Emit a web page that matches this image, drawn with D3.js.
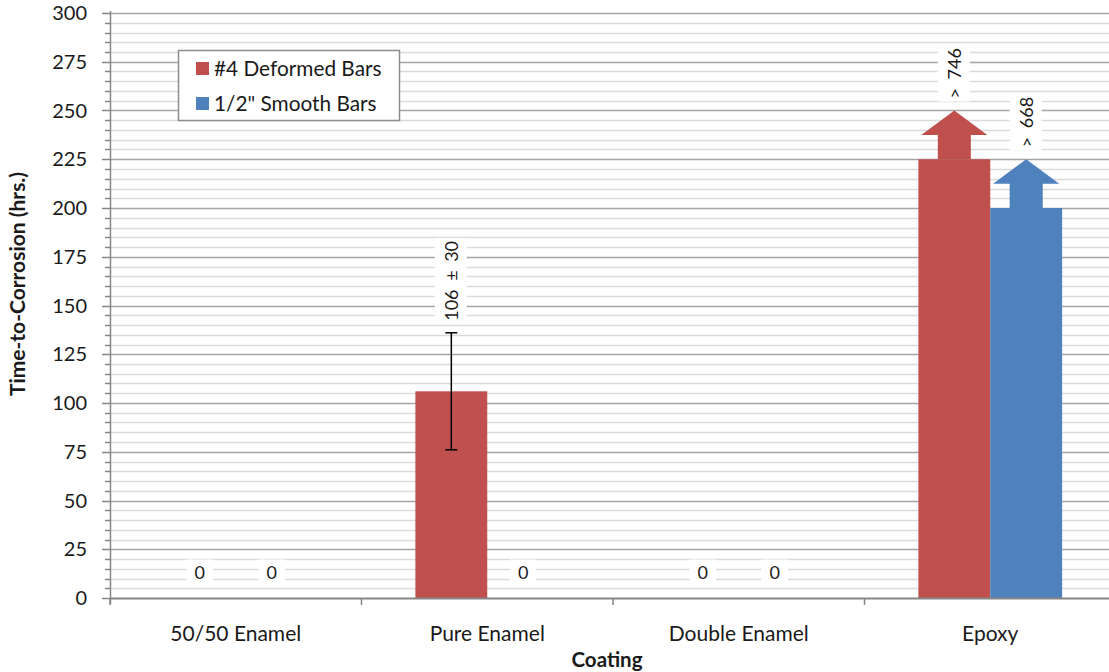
<!DOCTYPE html>
<html><head><meta charset="utf-8">
<script src="https://cdn.jsdelivr.net/npm/d3@7"></script>
<style>
html,body{margin:0;padding:0;background:#fff;}
svg{display:block;}
text{font-family:Lato,"Open Sans",sans-serif;fill:#1a1a1a;}
</style></head>
<body>
<svg id="chart" width="1109" height="672"></svg>
<script>
// ---- data ----
const categories = ["50/50 Enamel", "Pure Enamel", "Double Enamel", "Epoxy"];
const seriesNames = ["#4 Deformed Bars", "1/2\" Smooth Bars"];
const deformedValues = [0, 106, 0, 225];
const smoothValues = [0, 0, 0, 200];
const deformedArrowTop = [null, null, null, 250];
const smoothArrowTop = [null, null, null, 225];
const deformedError = [null, 30, null, null];
const smoothError = [null, null, null, null];
const deformedLabels = ["0", "106 ± 30", "0", "> 746"];
const smoothLabels = ["0", "0", "0", "> 668"];
const yTicks = [0, 25, 50, 75, 100, 125, 150, 175, 200, 225, 250, 275, 300];
const yMinorStep = 5;
const colors = ["#C0504D", "#4F81BD"];

(function () {
const svg = d3.select("#chart");
const pLeft = 110, pRight = 1116, pTop = 13, pBottom = 598;

const y = d3.scaleLinear().domain([0, 300]).range([pBottom, pTop]);
const x0 = d3.scaleBand().domain(categories).range([pLeft, pRight]).paddingInner(0).paddingOuter(0);
const x1 = d3.scaleBand().domain(seriesNames).range([0, x0.bandwidth()]).paddingInner(0).paddingOuter(0.75);

// gridlines
const minor = d3.range(0, 300 + 1e-9, yMinorStep).filter(v => v % 25 !== 0);
svg.append("g").selectAll("line").data(minor).join("line")
  .attr("x1", pLeft).attr("x2", 1109)
  .attr("y1", d => Math.round(y(d)) + 0.5).attr("y2", d => Math.round(y(d)) + 0.5)
  .attr("stroke", "#DADADA").attr("stroke-width", 1.5);
svg.append("g").selectAll("line").data(yTicks.filter(v => v > 0)).join("line")
  .attr("x1", pLeft).attr("x2", 1109)
  .attr("y1", d => Math.round(y(d)) + 0.5).attr("y2", d => Math.round(y(d)) + 0.5)
  .attr("stroke", "#A5A5A5").attr("stroke-width", 1.5);

// series data
const series = [
  {name: seriesNames[0], values: deformedValues, arrow: deformedArrowTop, err: deformedError, labels: deformedLabels, color: colors[0]},
  {name: seriesNames[1], values: smoothValues, arrow: smoothArrowTop, err: smoothError, labels: smoothLabels, color: colors[1]}
];
const items = [];
series.forEach(s => categories.forEach((c, i) => items.push({
  cat: c, s: s.name, v: s.values[i], a: s.arrow[i], e: s.err[i], label: s.labels[i], color: s.color
})));
const bw = x1.bandwidth();
const cx = d => x0(d.cat) + x1(d.s) + bw / 2;

// bars
svg.append("g").selectAll("rect").data(items.filter(d => d.v > 0)).join("rect")
  .attr("x", d => x0(d.cat) + x1(d.s)).attr("width", bw)
  .attr("y", d => y(d.v)).attr("height", d => y(0) - y(d.v))
  .attr("fill", d => d.color);

// arrows
svg.append("g").selectAll("path").data(items.filter(d => d.a != null)).join("path")
  .attr("fill", d => d.color)
  .attr("d", d => {
    const c = cx(d), sh = bw * 0.23, hh = bw * 0.46;
    const mid = d.v + (d.a - d.v) * 0.5;
    return `M${c - sh},${y(d.v)} L${c - sh},${y(mid)} L${c - hh},${y(mid)} L${c},${y(d.a)} L${c + hh},${y(mid)} L${c + sh},${y(mid)} L${c + sh},${y(d.v)} Z`;
  });

// error bars
const eg = svg.append("g").attr("stroke", "#000").attr("stroke-width", 1.5);
items.filter(d => d.e != null).forEach(d => {
  const c = cx(d);
  eg.append("line").attr("x1", c).attr("x2", c).attr("y1", y(d.v - d.e)).attr("y2", y(d.v + d.e));
  eg.append("line").attr("x1", c - 6).attr("x2", c + 6).attr("y1", y(d.v - d.e)).attr("y2", y(d.v - d.e));
  eg.append("line").attr("x1", c - 6).attr("x2", c + 6).attr("y1", y(d.v + d.e)).attr("y2", y(d.v + d.e));
});

// axes
const axisColor = "#868686";
const ya = svg.append("g");
ya.append("line").attr("x1", pLeft + 0.5).attr("x2", pLeft + 0.5).attr("y1", pTop - 2).attr("y2", pBottom + 6).attr("stroke", axisColor).attr("stroke-width", 1.5);
ya.selectAll(".mt").data(minor).join("line")
  .attr("x1", pLeft - 5).attr("x2", pLeft).attr("y1", d => Math.round(y(d)) + 0.5).attr("y2", d => Math.round(y(d)) + 0.5)
  .attr("stroke", axisColor).attr("stroke-width", 1.5);
ya.selectAll(".Mt").data(yTicks).join("line")
  .attr("x1", pLeft - 8).attr("x2", pLeft).attr("y1", d => Math.round(y(d)) + 0.5).attr("y2", d => Math.round(y(d)) + 0.5)
  .attr("stroke", axisColor).attr("stroke-width", 1.5);
ya.selectAll("text").data(yTicks).join("text")
  .attr("x", 87).attr("y", d => y(d)).attr("dy", "0.36em").attr("text-anchor", "end")
  .attr("font-size", 20).text(d => d);

const xa = svg.append("g");
xa.append("line").attr("x1", pLeft).attr("x2", 1109).attr("y1", pBottom + 0.5).attr("y2", pBottom + 0.5).attr("stroke", axisColor).attr("stroke-width", 2);
const bounds = categories.map(c => x0(c)).concat([x0(categories[categories.length - 1]) + x0.bandwidth()]);
xa.selectAll(".xt").data(bounds).join("line")
  .attr("x1", d => d).attr("x2", d => d).attr("y1", pBottom).attr("y2", pBottom + 7)
  .attr("stroke", axisColor).attr("stroke-width", 1.5);
xa.selectAll("text").data(categories).join("text")
  .attr("x", d => x0(d) + x0.bandwidth() / 2).attr("y", 641).attr("text-anchor", "middle")
  .attr("font-size", 21).text(d => d);

// axis titles
svg.append("text").attr("x", 607).attr("y", 667).attr("text-anchor", "middle")
  .attr("font-size", 20.5).attr("font-weight", "bold").text("Coating");
svg.append("text").attr("transform", "translate(25,284) rotate(-90)").attr("text-anchor", "middle")
  .attr("font-size", 21).attr("font-weight", "bold").text("Time-to-Corrosion (hrs.)");

// data labels
const lg = svg.append("g");
items.forEach(d => {
  const c = cx(d);
  if (d.v === 0 && d.a == null) {
    const t = lg.append("text").attr("x", c).attr("y", y(0) - 25).attr("dy", "0.36em")
      .attr("text-anchor", "middle").attr("font-size", 18).text(d.label);
    const b = t.node().getBBox();
    lg.insert("rect", "text").attr("x", b.x - 8).attr("y", b.y - 2).attr("width", b.width + 16).attr("height", b.height + 4).attr("fill", "#fff");
  } else {
    const topV = d.a != null ? d.a : (d.e != null ? d.v + d.e : d.v);
    const yb = y(topV) - 12;
    const g = lg.append("g").attr("transform", `translate(${c},${yb}) rotate(-90)`);
    const t = g.append("text").attr("x", 0).attr("y", 0).attr("dy", "0.36em")
      .attr("text-anchor", "start").attr("font-size", 18).attr("word-spacing", 4).text(d.label);
    const b = t.node().getBBox();
    g.insert("rect", "text").attr("x", b.x - 3).attr("y", b.y - 5).attr("width", b.width + 6).attr("height", b.height + 10).attr("fill", "#fff");
  }
});

// legend
const leg = svg.append("g");
leg.append("rect").attr("x", 178.5).attr("y", 50.5).attr("width", 221).attr("height", 70)
  .attr("fill", "#fff").attr("stroke", "#8C8C8C").attr("stroke-width", 1.5);
seriesNames.forEach((n, i) => {
  leg.append("rect").attr("x", 196).attr("y", 62 + i * 35).attr("width", 13).attr("height", 13).attr("fill", colors[i]);
  leg.append("text").attr("x", 214).attr("y", 69 + i * 35).attr("dy", "0.36em").attr("font-size", 20.8).text(n);
});
})();
</script>
</body></html>
